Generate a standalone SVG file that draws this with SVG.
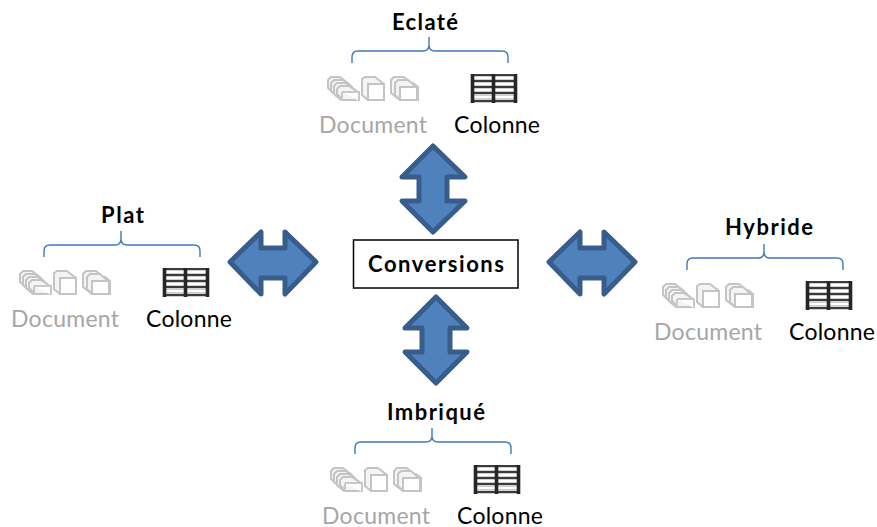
<svg xmlns="http://www.w3.org/2000/svg" width="877" height="527" viewBox="0 0 877 527">
<style>
text{font-family:Lato,"Liberation Sans",Arial,sans-serif;font-size:23px}
.title{font-weight:bold;font-size:22px;fill:#000}
.doc{fill:#a6a6a6}
.col{fill:#000}
.brace{fill:none;stroke:#3f78bd;stroke-width:1.400}
.arrow{fill:#4f81bd;stroke:#385d8a;stroke-width:5;stroke-linejoin:round}
.p{fill:#f4f4f4;stroke:#c4c4c4;stroke-width:2}
</style>
<defs>
<filter id="soft" x="-10%" y="-10%" width="120%" height="120%"><feGaussianBlur stdDeviation="0.7"/></filter>
<g id="docs" filter="url(#soft)">
<path class="p" d="M328 80 l3 -3 h9 l9 7 v10 h-14 l-7 -6z"/>
<path class="p" d="M331 83 l3 -3 h9 l9 7 v10 h-14 l-7 -6z"/>
<path class="p" d="M334 86 l3 -3 h9 l9 7 v10 h-14 l-7 -6z"/>
<path class="p" d="M337 89 l3 -3 h9 l9 6 v8 h-15 l-6 -6z"/>
<path d="M342 92 h17 v9 M342 92 v9" fill="#fff" stroke="#c8c8c8" stroke-width="2"/>
<path class="p" d="M362 79 l3 -2 h10 l9 7 v16 h-16 l-6 -5z"/>
<rect x="368" y="84" width="16" height="16" fill="#fff" stroke="#c4c4c4" stroke-width="2"/>
<path class="p" d="M391 80 l3 -3 h10 l7 6 h2 l5 4 v13 h-18 l-9 -7z"/>
<path class="p" d="M395 83 l3 -3 h10 l8 7 v13 h-16 l-5 -5z"/>
<rect x="400" y="87" width="17" height="13" fill="#fff" stroke="#c4c4c4" stroke-width="2"/>
</g>
<g id="cols" filter="url(#soft)">
<rect x="471" y="74" width="46" height="29" fill="#d0d0d0"/>
<path d="M472 75h44M472 81h44M472 87h44M472 93h44M472 101h44" stroke="#3a3a3a" stroke-width="2.200" fill="none"/>
<path d="M473 78h43M473 84h43M473 90h43M473 97h43" stroke="#fff" stroke-width="1.800" fill="none"/>
<path d="M472.500 74v29M493.500 74v29M515.500 74v29" stroke="#262626" stroke-width="3.600" fill="none"/>
</g>
<g id="set">
<path class="brace" d="M352 63 v-6 q0 -6 6 -6 h65 q6 0 6 -6 v-8 v8 q0 6 6 6 h67 q6 0 6 6 v6"/>
<use href="#docs"/>
<use href="#cols"/>
<text class="doc" x="319" y="133" textLength="108" lengthAdjust="spacing">Document</text>
<text class="col" x="454" y="133" textLength="86" lengthAdjust="spacing">Colonne</text>
</g>
</defs>

<g id="connectors">
<path id="arrow-top" class="arrow" d="M433 146 L465 177 H447 V201 H465 L433 232 L402 201 H419 V177 H402 Z"/>
<path id="arrow-bottom" class="arrow" d="M436 297 L467 328 H450 V352 H467 L436 383 L405 352 H422 V328 H405 Z"/>
<path id="arrow-left" class="arrow" d="M230 262 L261 232 V248 H285 V232 L316 262 L285 294 V278 H261 V294 Z"/>
<path id="arrow-right" class="arrow" d="M549 262 L580 232 V248 H604 V232 L635 262 L604 294 V278 H580 V294 Z"/>
</g>

<g id="conversions">
<rect x="353.500" y="240" width="164.500" height="48" fill="#fff" stroke="#000" stroke-width="1.500"/>
<text class="title" x="368" y="272" textLength="136" lengthAdjust="spacing">Conversions</text>
</g>
<g id="eclate">
<text class="title" x="392" y="30" textLength="66" lengthAdjust="spacing">Eclaté</text>
<use href="#set"/>
</g>
<g id="plat">
<text class="title" x="101" y="223" textLength="43" lengthAdjust="spacing">Plat</text>
<use href="#set" transform="translate(-308 194)"/>
</g>
<g id="hybride">
<text class="title" x="725" y="235" textLength="88" lengthAdjust="spacing">Hybride</text>
<use href="#set" transform="translate(335 207)"/>
</g>
<g id="imbrique">
<text class="title" x="387" y="420" textLength="98" lengthAdjust="spacing">Imbriqué</text>
<use href="#set" transform="translate(3 391)"/>
</g>
</svg>
